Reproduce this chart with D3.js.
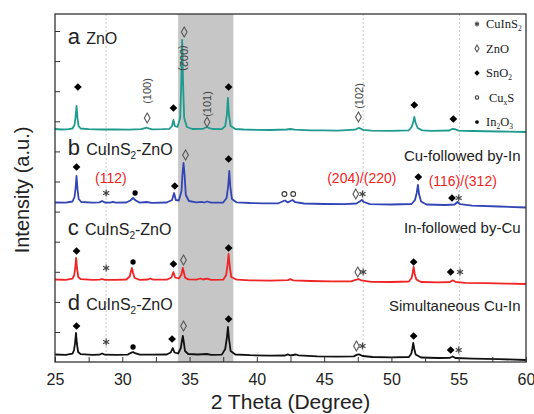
<!DOCTYPE html>
<html>
<head>
<meta charset="utf-8">
<script src="https://cdn.jsdelivr.net/npm/d3@7"></script>
<style>
body { margin: 0; background: #fff; }
svg { display: block; font-family: "Liberation Sans", Arial, sans-serif; }
</style>
</head>
<body>
<svg id="chart" width="534" height="414"></svg>
<script>
// vertical offsets of each pattern (stacked, arbitrary units)
var offsets = [232, 159, 82, 7];
var colors = ["#1f9a8e", "#3344b4", "#f02424", "#111111"];

// pattern a: ZnO  [2theta, intensity above its baseline]
var seriesA = [[25,1],[25.5,0.5],[26,0.8],[26.3,1.5],[26.45,5],[26.53,13],[26.6,24],[26.67,12],[26.75,4],[26.9,1.5],
  [27.5,0.8],[28.5,0.5],[29.5,0.6],[30.5,0.4],[31.4,0.8],[31.7,1.8],[31.8,2.5],[31.9,1.8],[32.2,0.6],[33,0.8],
  [33.5,1.2],[33.7,4],[33.8,10],[33.9,4],[34.1,3],[34.3,12],[34.38,45],[34.45,90],[34.52,45],[34.6,12],[34.8,3],
  [35.2,1],[36,1.2],[36.2,2.5],[36.3,3],[36.4,2.2],[36.7,1],[37.4,0.8],[37.65,4],[37.77,15],[37.85,32],[37.93,15],
  [38.05,4],[38.4,1],[39,0.5],[40,0.2],[41,0],[42.2,0.5],[42.5,1],[42.8,0.4],[44,-0.3],[45,-0.4],[46,-0.6],
  [47.3,0.3],[47.55,2],[47.65,1.8],[47.9,0.1],[48.5,-0.7],[50,-0.8],[51.3,-0.3],[51.5,3],[51.62,8],[51.7,13],
  [51.8,7],[51.95,2],[52.3,-0.4],[53,-0.8],[54.3,-0.5],[54.55,1.2],[54.7,0.8],[55,-0.6],[56,-1],[58,-1.5],[60,-2]];

// pattern b: Cu-followed by-In
var seriesB = [[25,0.5],[25.8,0.3],[26.3,1.5],[26.45,6],[26.53,15],[26.6,27],[26.67,14],[26.76,4],[26.95,1],
  [27.8,0.3],[28.3,0.6],[28.5,2],[28.7,0.5],[29.1,0.4],[29.3,1.2],[29.5,0.3],[30.3,0.5],[30.6,2.5],[30.8,5],
  [31,2.5],[31.3,0.4],[31.8,1],[32.2,0.2],[33.3,0.5],[33.7,3],[33.85,10],[33.98,3],[34.2,2.5],[34.4,12],
  [34.48,30],[34.55,40],[34.63,28],[34.72,8],[34.95,2],[35.5,0.6],[35.9,1.2],[36.1,0.5],[36.3,1.5],[36.6,0.3],
  [37.5,0.5],[37.75,5],[37.87,17],[37.95,32],[38.03,16],[38.15,4],[38.5,0.6],[39.5,0],[40.5,-0.3],[41.6,-0.3],
  [41.95,1.8],[42.1,2.5],[42.3,0.6],[42.5,2],[42.65,3],[42.85,0.8],[43.5,-0.5],[45,-1],[46.5,-1.2],[47.4,-0.5],
  [47.7,2],[47.8,3],[47.95,1],[48.4,-1.2],[50,-1.5],[51.5,-1],[51.75,3],[51.88,10],[51.97,18],[52.05,9],
  [52.2,1.5],[52.6,-1.5],[54,-2],[54.7,-1.5],[54.9,1],[55.1,-1.2],[56,-2.6],[58,-3.5],[60,-4.5]];

// pattern c: In-followed by-Cu
var seriesC = [[25,0.5],[25.8,0.2],[26.3,1.3],[26.43,5],[26.5,12],[26.57,22],[26.64,11],[26.73,3],[26.9,0.8],
  [27.8,0.2],[28.3,0.3],[28.5,1],[28.7,0.2],[29.5,0.1],[30.3,0.5],[30.55,3.5],[30.65,9],[30.72,12],[30.8,7],
  [30.92,2],[31.3,0.2],[31.9,0.5],[32.1,1.5],[32.3,0.3],[33.3,0.3],[33.65,2.5],[33.8,8],[33.92,2.5],[34.2,1.5],
  [34.38,5],[34.45,9],[34.5,12],[34.57,8],[34.66,2.5],[34.9,0.6],[35.5,0.4],[35.8,1.5],[36,0.5],[36.3,1.4],
  [36.6,0.2],[37.5,0.3],[37.72,5],[37.82,15],[37.9,26],[37.98,14],[38.1,3],[38.5,0.3],[39.5,-0.3],[41,-0.6],
  [42.3,-0.2],[42.5,0.8],[42.7,-0.3],[44,-1],[45.5,-1.4],[47,-1.3],[47.4,0.3],[47.55,1],[47.75,-0.4],[48.5,-1.8],
  [50,-2],[51.3,-1.5],[51.5,2],[51.58,7],[51.65,13],[51.73,6],[51.85,0.5],[52.2,-2],[53.5,-2.4],[54.35,-2],
  [54.55,-0.3],[54.75,-1.8],[55.5,-2.8],[57,-3.2],[58.5,-3.6],[60,-4]];

// pattern d: Simultaneous Cu-In
var seriesD = [[25,0.5],[25.8,0.2],[26.3,1.3],[26.42,5],[26.49,12],[26.56,22],[26.63,11],[26.72,3],[26.9,0.8],
  [27.8,0.2],[28.3,0.3],[28.5,1.5],[28.7,0.3],[29.5,0.2],[30.4,0.4],[30.65,2.2],[30.8,3],[30.95,1.8],[31.3,0.3],
  [32.2,0.4],[33.3,0.5],[33.6,2.5],[33.75,7],[33.88,2.5],[34.15,1.5],[34.35,7],[34.43,14],[34.5,19],[34.57,13],
  [34.66,4],[34.9,1],[35.6,0.5],[36.3,1],[36.6,0.2],[37.4,0.4],[37.65,6],[37.77,17],[37.85,28],[37.93,16],
  [38.05,4],[38.4,0.5],[39.5,-0.2],[41,-0.6],[42.1,-0.5],[42.3,0.6],[42.5,-0.5],[42.9,0.5],[43.1,-0.4],[44.5,-1.3],
  [46,-1.6],[47.2,-1.4],[47.45,0.4],[47.6,0.6],[47.85,-1],[48.6,-2],[50,-2.3],[51.3,-2],[51.48,1.5],[51.55,6],
  [51.62,12],[51.7,6],[51.8,0.5],[52.2,-2.5],[53.5,-3],[54.35,-2.8],[54.55,-1.5],[54.75,-3],[56,-3.6],[58,-4.2],[60,-5]];

var seriesData = [seriesA, seriesB, seriesC, seriesD];

// phase marks: [2theta, height, type]
var marksA = [[26.7,275,"sno2"],[31.85,244,"zno"],[33.8,254,"sno2"],[34.6,330,"zno"],[36.3,240,"zno"],
  [37.9,275,"sno2"],[47.55,245,"zno"],[51.7,257,"sno2"],[54.6,243,"sno2"]];
var marksB = [[26.6,195,"sno2"],[28.8,169,"cis"],[30.95,169,"in2o3"],[33.9,176,"sno2"],[34.7,207,"zno"],
  [37.9,203,"sno2"],[42.05,168,"cuxs"],[42.7,168,"cuxs"],[47.35,168,"zno"],[47.85,168,"cis"],
  [52.0,185,"sno2"],[54.5,164,"sno2"],[55.0,164,"cis"]];
var marksC = [[26.6,111,"sno2"],[28.8,94,"cis"],[30.8,100,"in2o3"],[33.8,98,"sno2"],[34.55,102,"zno"],
  [37.9,114,"sno2"],[47.5,90,"zno"],[47.9,90,"cis"],[51.65,100,"sno2"],[54.4,90,"sno2"],[55.1,90,"cis"]];
var marksD = [[26.6,36,"sno2"],[28.8,20,"cis"],[30.8,15,"in2o3"],[33.7,23,"sno2"],[34.55,36,"zno"],
  [37.9,43,"sno2"],[47.4,16,"zno"],[47.85,16,"cis"],[51.65,26,"sno2"],[54.4,12,"sno2"],[55.0,12,"cis"]];
var allMarks = marksA.concat(marksB, marksC, marksD);

// ZnO plane indices, rotated labels: [2theta, height, text, angle]
var zincPlanes = [[31.85,271,"(100)",-90],[34.55,304,"(002)",90],[36.3,258,"(101)",-90],[47.6,266,"(102)",-90]];
// CuInS2 plane indices in red
var cisPlanes = [[29.15,179,"(112)"],[47.8,179,"(204)/(220)"],[55.3,176,"(116)/(312)"]];
// sample names: [letter, name, height]
var sampleLetters = ["a", "b", "c", "d"];
var sampleNames = ["ZnO", "CuInS2-ZnO", "CuInS2-ZnO", "CuInS2-ZnO"];
var sampleY = [318, 207, 127, 52];
var routeNames = ["Cu-followed by-In", "In-followed by-Cu", "Simultaneous Cu-In"];
var routeY = [201, 129, 51];

var legendTypes = ["cis", "zno", "sno2", "cuxs", "in2o3"];
var legendNames = [["CuInS", "2", ""], ["ZnO", "", ""], ["SnO", "2", ""], ["Cu", "x", "S"], ["In", "2", "O", "3"]];

var xTicks = [25, 30, 35, 40, 45, 50, 55, 60];
var guideLines = [28.8, 47.9, 55.05];
var band = [34.15, 38.25];

var svg = d3.select("#chart");
var plotLeft = 55, plotRight = 526, plotTop = 14, plotBottom = 362;

var x = d3.scaleLinear().domain([25, 60]).range([plotLeft, plotRight]);
var y = d3.scaleLinear().domain([0, 348]).range([plotBottom, plotTop]);

svg.append("rect").attr("width", 534).attr("height", 414).attr("fill", "#fff");

// shaded band
svg.append("rect")
    .attr("x", x(band[0])).attr("y", plotTop)
    .attr("width", x(band[1]) - x(band[0])).attr("height", plotBottom - plotTop)
    .attr("fill", "#c6c6c6");

// dotted guides
svg.selectAll("line.guide").data(guideLines).enter()
    .append("line")
    .attr("class", "guide")
    .attr("x1", function(d) { return x(d); }).attr("x2", function(d) { return x(d); })
    .attr("y1", plotTop).attr("y2", plotBottom)
    .attr("stroke", "#bbb").attr("stroke-width", 0.8).attr("stroke-dasharray", "2,2");

// patterns
var line = d3.line()
    .x(function(d) { return x(d[0]); })
    .y(function(d) { return y(d[1]); });

seriesData.forEach(function(s, i) {
    var shifted = s.map(function(p) { return [p[0], p[1] + offsets[i]]; });
    svg.append("path")
        .datum(shifted)
        .attr("fill", "none")
        .attr("stroke", colors[i])
        .attr("stroke-width", 1.8)
        .attr("stroke-linejoin", "round")
        .attr("d", line);
});

// phase symbols
function drawSymbol(g, type, scale) {
    var k = scale || 1;
    if (type === "sno2") {
        g.append("path").attr("d", d3.symbol(d3.symbolSquare, 30 * k * k)())
            .attr("transform", "rotate(45)").attr("fill", "#000");
    } else if (type === "zno") {
        g.append("path").attr("d", d3.symbol(d3.symbolDiamond, 28 * k * k)())
            .attr("fill", "none").attr("stroke", "#555").attr("stroke-width", 1.1);
    } else if (type === "cis") {
        g.append("path").attr("d", d3.symbol(d3.symbolAsterisk, 34 * k * k)())
            .attr("fill", "none").attr("stroke", "#444").attr("stroke-width", 1.2);
    } else if (type === "cuxs") {
        g.append("path").attr("d", d3.symbol(d3.symbolCircle, 18 * k * k)())
            .attr("fill", "#fff").attr("stroke", "#333").attr("stroke-width", 1.1);
    } else if (type === "in2o3") {
        g.append("path").attr("d", d3.symbol(d3.symbolCircle, 22 * k * k)())
            .attr("fill", "#000");
    }
}

allMarks.forEach(function(m) {
    var g = svg.append("g").attr("transform", "translate(" + x(m[0]) + "," + y(m[1]) + ")");
    drawSymbol(g, m[2]);
});

// plane labels
svg.selectAll("text.plane").data(zincPlanes).enter()
    .append("text")
    .attr("class", "plane")
    .attr("transform", function(d) { return "translate(" + x(d[0]) + "," + y(d[1]) + ") rotate(" + d[3] + ")"; })
    .attr("text-anchor", "middle").attr("dy", "0.35em")
    .attr("font-size", 11).attr("fill", "#444")
    .text(function(d) { return d[2]; });

svg.selectAll("text.cis").data(cisPlanes).enter()
    .append("text")
    .attr("class", "cis")
    .attr("x", function(d) { return x(d[0]); }).attr("y", function(d) { return y(d[1]); })
    .attr("text-anchor", "middle")
    .attr("font-size", 14).attr("fill", "#f02424")
    .text(function(d) { return d[2]; });

// sample labels
sampleLetters.forEach(function(letter, i) {
    var t = svg.append("text")
        .attr("x", x(25.95)).attr("y", y(sampleY[i]))
        .attr("fill", "#222");
    t.append("tspan").attr("font-size", 22).text(letter + " ");
    var name = sampleNames[i];
    if (name === "ZnO") {
        t.append("tspan").attr("font-size", 16).text(name);
    } else {
        t.append("tspan").attr("font-size", 16).text("CuInS");
        t.append("tspan").attr("font-size", 10).attr("dy", 4).text("2");
        t.append("tspan").attr("font-size", 16).attr("dy", -4).text("-ZnO");
    }
});

svg.selectAll("text.route").data(routeNames).enter()
    .append("text")
    .attr("class", "route")
    .attr("x", x(59.6)).attr("y", function(d, i) { return y(routeY[i]); })
    .attr("text-anchor", "end")
    .attr("font-size", 15).attr("fill", "#222")
    .text(function(d) { return d; });

// legend
legendTypes.forEach(function(type, i) {
    var ly = 24 + i * 24.5;
    var g = svg.append("g").attr("transform", "translate(477," + ly + ")");
    drawSymbol(g, type, 0.7);
    var t = svg.append("text")
        .attr("x", type === "cuxs" ? 489 : 486).attr("y", ly + 4)
        .attr("font-family", "'Liberation Serif', 'Times New Roman', serif")
        .attr("font-size", 12.5).attr("fill", "#222");
    var parts = legendNames[i];
    t.append("tspan").text(parts[0]);
    if (parts[1]) t.append("tspan").attr("font-size", 7.5).attr("dy", 3).text(parts[1]);
    if (parts[2]) t.append("tspan").attr("dy", parts[1] ? -3 : 0).text(parts[2]);
    if (parts[3]) t.append("tspan").attr("font-size", 7.5).attr("dy", 3).text(parts[3]);
});

// axes
var xAxis = d3.axisBottom(x)
    .tickValues(d3.range(25, 60.1, 2.5))
    .tickSizeInner(-5).tickSizeOuter(0)
    .tickPadding(12)
    .tickFormat(function(d) { return xTicks.indexOf(d) >= 0 ? d : ""; });

var gx = svg.append("g").attr("transform", "translate(0," + plotBottom + ")").call(xAxis);
gx.selectAll("text").attr("font-size", 16).attr("fill", "#222")
    .attr("font-family", "'Liberation Sans', Arial, sans-serif");

var yAxis = d3.axisLeft(y)
    .tickValues(d3.range(30, 340, 30.1))
    .tickSizeInner(-5).tickSizeOuter(0)
    .tickFormat("");
var gy = svg.append("g").attr("transform", "translate(" + plotLeft + ",0)").call(yAxis);

svg.selectAll(".domain").remove();
svg.selectAll(".tick line").attr("stroke", "#333").attr("stroke-width", 1);

// frame
svg.append("rect")
    .attr("x", plotLeft).attr("y", plotTop)
    .attr("width", plotRight - plotLeft).attr("height", plotBottom - plotTop)
    .attr("fill", "none").attr("stroke", "#333").attr("stroke-width", 1.3);

// axis titles
svg.append("text")
    .attr("x", (plotLeft + plotRight) / 2).attr("y", 409)
    .attr("text-anchor", "middle")
    .attr("font-size", 21).attr("fill", "#222")
    .text("2 Theta (Degree)");

svg.append("text")
    .attr("transform", "translate(29,190) rotate(-90)")
    .attr("text-anchor", "middle")
    .attr("font-size", 20).attr("fill", "#222")
    .text("Intensity (a.u.)");
</script>
</body>
</html>
